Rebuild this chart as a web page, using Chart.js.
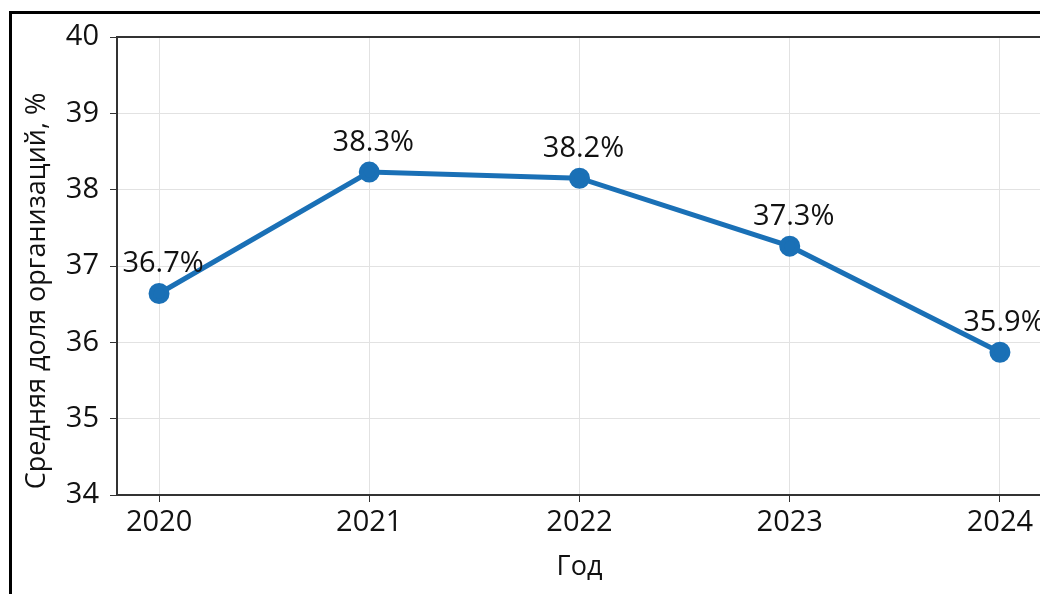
<!DOCTYPE html>
<html>
<head>
<meta charset="utf-8">
<script src="https://cdn.jsdelivr.net/npm/chart.js"></script>
<style>
    html, body { margin: 0; padding: 0; background: #fff; overflow: hidden; }
    #frame {
        position: absolute; left: 9px; top: 11px; width: 1200px; height: 700px;
        border-left: 3px solid #000; border-top: 3px solid #000;
    }
    #wrap { position: absolute; left: 0; top: 0; }
</style>
</head>
<body>
<div id="frame"></div>
<div id="wrap"><canvas id="chart-canvas" width="1100" height="594"></canvas></div>
<script>
// values
const years = [2020, 2021, 2022, 2023, 2024];
const shares = [36.64, 38.23, 38.15, 37.26, 35.87];
const pointLabels = ["36.7%", "38.3%", "38.2%", "37.3%", "35.9%"];
const yTicks = [34, 35, 36, 37, 38, 39, 40];

const FONT = "'Open Sans', 'Noto Sans', sans-serif";
const LINE_BLUE = "#1a70b6";
const INK = "#111";

// labels above each point
const pointLabelPlugin = {
    id: "pointLabels",
    afterDatasetsDraw(chart) {
        const ctx = chart.ctx;
        const meta = chart.getDatasetMeta(0);
        ctx.save();
        ctx.font = "29px " + FONT;
        ctx.fillStyle = INK;
        ctx.textAlign = "center";
        ctx.textBaseline = "alphabetic";
        meta.data.forEach((pt, i) => {
            ctx.fillText(pointLabels[i], pt.x + 4, pt.y - 21);
        });
        ctx.restore();
    }
};

// top edge of the plot box and the rotated y title
const boxPlugin = {
    id: "box",
    beforeDatasetsDraw(chart) {
        const { ctx, chartArea } = chart;
        ctx.save();
        ctx.strokeStyle = "#333";
        ctx.lineWidth = 2;
        ctx.beginPath();
        ctx.moveTo(chartArea.left, chartArea.top);
        ctx.lineTo(chartArea.right + 1, chartArea.top);
        ctx.stroke();
        ctx.restore();
    },
    afterDraw(chart) {
        const ctx = chart.ctx;
        ctx.save();
        ctx.translate(37, 291);
        ctx.rotate(-Math.PI / 2);
        ctx.font = "27px " + FONT;
        ctx.fillStyle = INK;
        ctx.textAlign = "center";
        ctx.textBaseline = "middle";
        ctx.fillText("Средняя доля организаций, %", 0, 0);
        ctx.restore();
    }
};

new Chart(document.getElementById("chart-canvas"), {
    type: "line",
    data: {
        datasets: [{
            data: years.map((y, i) => ({ x: y, y: shares[i] })),
            borderColor: LINE_BLUE,
            backgroundColor: LINE_BLUE,
            borderWidth: 5,
            pointRadius: 8,
            pointHoverRadius: 8,
            tension: 0
        }]
    },
    options: {
        responsive: false,
        animation: false,
        layout: { padding: { top: 37, right: 58, bottom: 0, left: 0 } },
        plugins: { legend: { display: false }, tooltip: { enabled: false } },
        scales: {
            x: {
                type: "linear",
                min: 2019.8,
                max: 2024.2,
                afterBuildTicks: (scale) => { scale.ticks = years.map(v => ({ value: v })); },
                afterFit: (scale) => { scale.height = 99; },
                grid: { color: "#e2e2e2", tickColor: "#333", tickLength: 7, lineWidth: 1 },
                border: { color: "#333", width: 2 },
                ticks: {
                    callback: (v) => String(v),
                    font: { family: FONT, size: 29 },
                    color: INK,
                    padding: 3
                },
                title: {
                    display: true,
                    text: "Год",
                    font: { family: FONT, size: 27 },
                    color: INK,
                    padding: { top: 0, bottom: 10 }
                }
            },
            y: {
                min: 34,
                max: 40,
                afterBuildTicks: (scale) => { scale.ticks = yTicks.map(v => ({ value: v })); },
                afterFit: (scale) => { scale.width = 117; },
                grid: { color: "#e2e2e2", tickColor: "#333", tickLength: 7, lineWidth: 1 },
                border: { color: "#333", width: 2 },
                ticks: {
                    font: { family: FONT, size: 29 },
                    color: INK,
                    padding: 11
                }
            }
        }
    },
    plugins: [pointLabelPlugin, boxPlugin]
});
</script>
</body>
</html>
